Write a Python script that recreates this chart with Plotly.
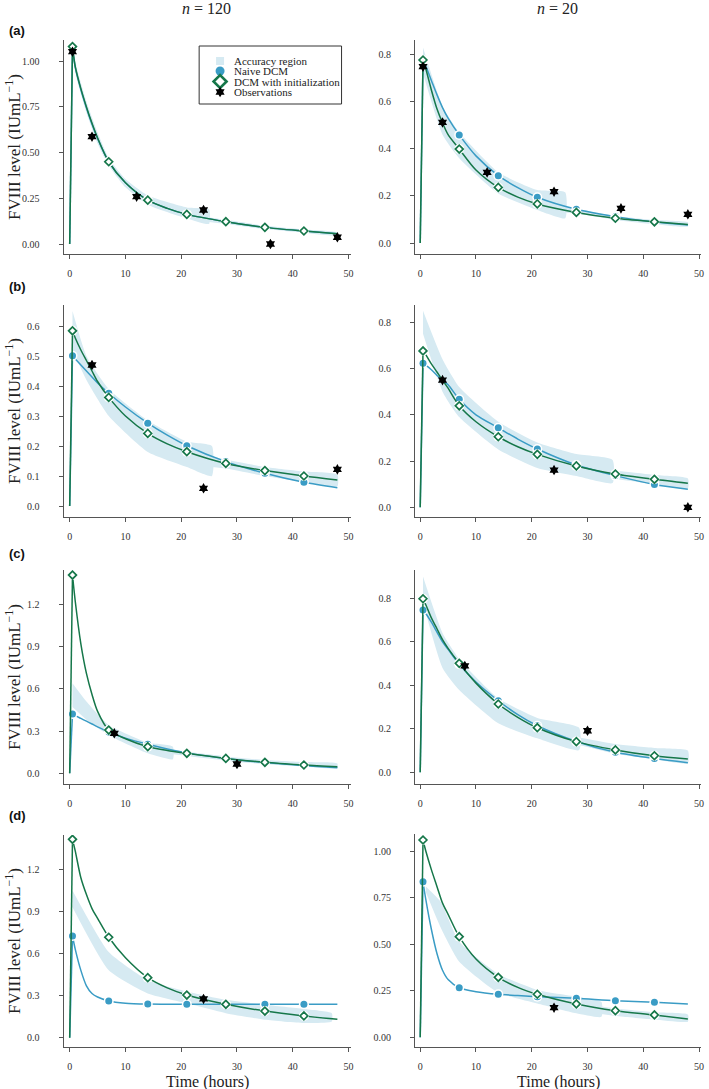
import plotly.graph_objects as go

W, H = 709, 1089

# ---------------- data ----------------
T = [0, 0.5, 1, 2, 3, 4, 5, 7, 10, 14, 17.5, 21, 28, 35, 42, 48]
MARK_T = [0.5, 7, 14, 21, 28, 35, 42]
XTICKS = [0, 10, 20, 30, 40, 50]

# (a) n=120
A120_green = [0, 1.08, 0.97, 0.85, 0.75, 0.66, 0.58, 0.45, 0.335, 0.24, 0.195, 0.162, 0.122, 0.091, 0.071, 0.056]
A120_blue = [0, 1.07, 0.965, 0.845, 0.745, 0.655, 0.578, 0.45, 0.335, 0.24, 0.195, 0.162, 0.122, 0.091, 0.071, 0.056]
A120_obs_t = [0.5, 4, 12, 24, 36, 48]
A120_obs_v = [1.052, 0.587, 0.259, 0.186, 0.0, 0.037]
A120_b1_t = [0.5, 1.3, 3, 5, 7, 10, 14, 21, 25]
A120_b1_hi = [1.09, 0.96, 0.78, 0.61, 0.47, 0.355, 0.265, 0.2, 0.19]
A120_b1_lo = [1.03, 0.9, 0.72, 0.55, 0.43, 0.31, 0.215, 0.14, 0.11]
A120_b2_t = [25, 28, 35, 42, 48]
A120_b2_hi = [0.145, 0.132, 0.1, 0.08, 0.064]
A120_b2_lo = [0.12, 0.11, 0.082, 0.062, 0.047]

# (a) n=20
A20_green = [0, 0.777, 0.74, 0.65, 0.57, 0.51, 0.46, 0.399, 0.31, 0.236, 0.195, 0.166, 0.13, 0.105, 0.09, 0.079]
A20_blue = [0, 0.77, 0.75, 0.69, 0.63, 0.575, 0.53, 0.459, 0.37, 0.286, 0.235, 0.194, 0.143, 0.112, 0.089, 0.076]
A20_obs_t = [0.5, 4, 12, 24, 36, 48]
A20_obs_v = [0.749, 0.512, 0.3, 0.218, 0.147, 0.122]
A20_b1_t = [0.5, 4, 7, 14, 21, 26]
A20_b1_hi = [0.83, 0.58, 0.47, 0.3, 0.225, 0.215]
A20_b1_lo = [0.72, 0.46, 0.36, 0.21, 0.14, 0.105]
A20_b2_t = [26, 28, 35, 42, 48]
A20_b2_hi = [0.155, 0.145, 0.115, 0.098, 0.088]
A20_b2_lo = [0.13, 0.125, 0.098, 0.08, 0.07]

# (b) n=120
B120_green = [0, 0.584, 0.56, 0.52, 0.485, 0.45, 0.415, 0.362, 0.3, 0.242, 0.207, 0.181, 0.142, 0.118, 0.1, 0.087]
B120_blue = [0, 0.501, 0.49, 0.47, 0.45, 0.43, 0.41, 0.376, 0.33, 0.276, 0.236, 0.201, 0.148, 0.109, 0.079, 0.061]
B120_obs_t = [4, 24, 48]
B120_obs_v = [0.47, 0.059, 0.122]
B120_b1_t = [0.5, 3, 7, 14, 21, 25.5]
B120_b1_hi = [0.65, 0.5, 0.39, 0.285, 0.215, 0.2]
B120_b1_lo = [0.52, 0.42, 0.3, 0.18, 0.13, 0.1]
B120_b2_t = [25.5, 28, 35, 42, 48]
B120_b2_hi = [0.165, 0.155, 0.13, 0.115, 0.105]
B120_b2_lo = [0.13, 0.125, 0.1, 0.08, 0.065]

# (b) n=20
B20_green = [0, 0.676, 0.66, 0.62, 0.585, 0.55, 0.515, 0.439, 0.37, 0.305, 0.262, 0.229, 0.179, 0.144, 0.121, 0.104]
B20_blue = [0, 0.623, 0.615, 0.595, 0.57, 0.55, 0.53, 0.467, 0.4, 0.344, 0.295, 0.252, 0.183, 0.137, 0.099, 0.078]
B20_obs_t = [4, 24, 48]
B20_obs_v = [0.55, 0.161, 0.0]
B20_b1_t = [0.5, 4, 7, 14, 21, 28, 34.5]
B20_b1_hi = [0.85, 0.64, 0.52, 0.37, 0.28, 0.23, 0.205]
B20_b1_lo = [0.75, 0.5, 0.39, 0.25, 0.17, 0.135, 0.105]
B20_b2_t = [34.5, 42, 48]
B20_b2_hi = [0.16, 0.14, 0.125]
B20_b2_lo = [0.125, 0.1, 0.082]

# (c) n=120
C120_green = [0, 1.408, 1.22, 0.92, 0.71, 0.56, 0.44, 0.307, 0.245, 0.189, 0.162, 0.142, 0.106, 0.078, 0.059, 0.047]
C120_blue = [0, 0.421, 0.41, 0.39, 0.37, 0.35, 0.33, 0.293, 0.25, 0.206, 0.173, 0.145, 0.105, 0.076, 0.054, 0.04]
C120_obs_t = [8, 30]
C120_obs_v = [0.284, 0.066]
C120_b1_t = [0.5, 3, 7, 14, 18.5]
C120_b1_hi = [0.64, 0.51, 0.343, 0.218, 0.189]
C120_b1_lo = [0.47, 0.38, 0.27, 0.142, 0.1]
C120_b2_t = [18.5, 28, 35, 42, 48]
C120_b2_hi = [0.165, 0.12, 0.095, 0.08, 0.07]
C120_b2_lo = [0.135, 0.09, 0.065, 0.048, 0.037]

# (c) n=20
C20_green = [0, 0.798, 0.77, 0.71, 0.66, 0.61, 0.57, 0.501, 0.41, 0.314, 0.253, 0.205, 0.141, 0.103, 0.076, 0.061]
C20_blue = [0, 0.746, 0.73, 0.69, 0.645, 0.6, 0.565, 0.497, 0.415, 0.329, 0.265, 0.214, 0.142, 0.092, 0.063, 0.044]
C20_obs_t = [8, 30]
C20_obs_v = [0.489, 0.191]
C20_b1_t = [0.5, 4, 7, 14, 21, 28.5]
C20_b1_hi = [0.9, 0.64, 0.52, 0.34, 0.25, 0.205]
C20_b1_lo = [0.78, 0.48, 0.378, 0.225, 0.156, 0.102]
C20_b2_t = [28.5, 35, 42, 48]
C20_b2_hi = [0.16, 0.13, 0.112, 0.1]
C20_b2_lo = [0.125, 0.085, 0.06, 0.042]

# (d) n=120
D120_green = [0, 1.414, 1.33, 1.14, 1.02, 0.92, 0.85, 0.716, 0.57, 0.428, 0.355, 0.304, 0.238, 0.19, 0.155, 0.131]
D120_blue = [0, 0.725, 0.63, 0.48, 0.37, 0.315, 0.29, 0.262, 0.246, 0.24, 0.239, 0.238, 0.238, 0.238, 0.238, 0.238]
D120_obs_t = [24]
D120_obs_v = [0.276]
D120_b1_t = [0.5, 7, 14, 21, 28, 35, 42, 47]
D120_b1_hi = [1.05, 0.61, 0.41, 0.33, 0.27, 0.235, 0.205, 0.175]
D120_b1_lo = [0.93, 0.48, 0.315, 0.245, 0.175, 0.128, 0.105, 0.115]
D120_b2_t = []
D120_b2_hi = []
D120_b2_lo = []

# (d) n=20
D20_green = [0, 1.059, 1.0, 0.9, 0.81, 0.72, 0.66, 0.54, 0.42, 0.322, 0.268, 0.231, 0.179, 0.143, 0.12, 0.098]
D20_blue = [0, 0.835, 0.74, 0.58, 0.45, 0.36, 0.31, 0.266, 0.245, 0.231, 0.224, 0.218, 0.209, 0.196, 0.188, 0.179]
D20_obs_t = [24]
D20_obs_v = [0.159]
D20_b1_t = [1, 3.6, 7, 14, 21, 28, 32.5]
D20_b1_hi = [0.81, 0.73, 0.513, 0.34, 0.254, 0.218, 0.19]
D20_b1_lo = [0.78, 0.594, 0.406, 0.24, 0.182, 0.129, 0.11]
D20_b2_t = [32.5, 35, 42, 48]
D20_b2_hi = [0.165, 0.155, 0.135, 0.123]
D20_b2_lo = [0.125, 0.115, 0.095, 0.084]

YT_A120 = [0, 0.25, 0.5, 0.75, 1.0]
YT_A20 = [0, 0.2, 0.4, 0.6, 0.8]
YT_B120 = [0, 0.1, 0.2, 0.3, 0.4, 0.5, 0.6]
YT_B20 = [0, 0.2, 0.4, 0.6, 0.8]
YT_C120 = [0, 0.3, 0.6, 0.9, 1.2]
YT_C20 = [0, 0.2, 0.4, 0.6, 0.8]
YT_D120 = [0, 0.3, 0.6, 0.9, 1.2]
YT_D20 = [0, 0.25, 0.5, 0.75, 1.0]

LEGEND_LABELS = ["Accuracy region", "Naive DCM", "DCM with initialization", "Observations"]
PANEL_LABELS = ["(a)", "(b)", "(c)", "(d)"]
COL_TITLES = ["<i>n</i> = 120", "<i>n</i> = 20"]
YTITLE = "FVIII level (IUmL<sup>−1</sup>)"
XTITLE = "Time (hours)"

# ---------------- style ----------------
GREEN = "#16774a"
BLUE = "#3a9cc5"
BAND = "#d6eaf2"
AX = "#555555"
SERIF = "Liberation Serif"

panels = [
    dict(g=A120_green, b=A120_blue, ot=A120_obs_t, ov=A120_obs_v,
         bands=[(A120_b1_t, A120_b1_lo, A120_b1_hi), (A120_b2_t, A120_b2_lo, A120_b2_hi)],
         yt=YT_A120, fmt=".2f", col=0, top=40, bot=254, y0=244, s=182.8),
    dict(g=A20_green, b=A20_blue, ot=A20_obs_t, ov=A20_obs_v,
         bands=[(A20_b1_t, A20_b1_lo, A20_b1_hi), (A20_b2_t, A20_b2_lo, A20_b2_hi)],
         yt=YT_A20, fmt=".1f", col=1, top=40, bot=254, y0=243, s=235.5),
    dict(g=B120_green, b=B120_blue, ot=B120_obs_t, ov=B120_obs_v,
         bands=[(B120_b1_t, B120_b1_lo, B120_b1_hi), (B120_b2_t, B120_b2_lo, B120_b2_hi)],
         yt=YT_B120, fmt=".1f", col=0, top=305, bot=517, y0=506, s=300),
    dict(g=B20_green, b=B20_blue, ot=B20_obs_t, ov=B20_obs_v,
         bands=[(B20_b1_t, B20_b1_lo, B20_b1_hi), (B20_b2_t, B20_b2_lo, B20_b2_hi)],
         yt=YT_B20, fmt=".1f", col=1, top=305, bot=517, y0=507.3, s=231.25),
    dict(g=C120_green, b=C120_blue, ot=C120_obs_t, ov=C120_obs_v,
         bands=[(C120_b1_t, C120_b1_lo, C120_b1_hi), (C120_b2_t, C120_b2_lo, C120_b2_hi)],
         yt=YT_C120, fmt=".1f", col=0, top=570, bot=784, y0=773.3, s=140.8),
    dict(g=C20_green, b=C20_blue, ot=C20_obs_t, ov=C20_obs_v,
         bands=[(C20_b1_t, C20_b1_lo, C20_b1_hi), (C20_b2_t, C20_b2_lo, C20_b2_hi)],
         yt=YT_C20, fmt=".1f", col=1, top=570, bot=784, y0=772.3, s=217.5),
    dict(g=D120_green, b=D120_blue, ot=D120_obs_t, ov=D120_obs_v,
         bands=[(D120_b1_t, D120_b1_lo, D120_b1_hi), (D120_b2_t, D120_b2_lo, D120_b2_hi)],
         yt=YT_D120, fmt=".1f", col=0, top=835, bot=1047, y0=1037.7, s=140.3),
    dict(g=D20_green, b=D20_blue, ot=D20_obs_t, ov=D20_obs_v,
         bands=[(D20_b1_t, D20_b1_lo, D20_b1_hi), (D20_b2_t, D20_b2_lo, D20_b2_hi)],
         yt=YT_D20, fmt=".2f", col=1, top=834, bot=1047, y0=1037.3, s=186.3),
]
COLS = [dict(x0=64, x1=352, zero=70), dict(x0=417, x1=704, zero=422)]
XS = 5.6  # px per hour

fig = go.Figure()
layout = {}
mark_idx = [T.index(t) for t in MARK_T]

for i, p in enumerate(panels):
    k = "" if i == 0 else str(i + 1)
    xa, ya = "x" + k, "y" + k
    c = COLS[p["col"]]
    for (bt, blo, bhi) in p["bands"]:
        if not bt:
            continue
        fig.add_trace(go.Scatter(x=list(bt) + list(bt[::-1]), y=list(bhi) + list(blo[::-1]),
                                 fill="toself", fillcolor=BAND, mode="lines",
                                 line=dict(width=0, shape="spline", smoothing=0.5),
                                 xaxis=xa, yaxis=ya, showlegend=False, hoverinfo="skip"))
    for vals, color, sym in [(p["b"], BLUE, "circle"), (p["g"], GREEN, "diamond")]:
        fig.add_trace(go.Scatter(x=T[:2], y=vals[:2], mode="lines", line=dict(color=color, width=1.5),
                                 xaxis=xa, yaxis=ya, showlegend=False, hoverinfo="skip"))
        fig.add_trace(go.Scatter(x=T[1:], y=vals[1:], mode="lines",
                                 line=dict(color=color, width=1.5, shape="spline", smoothing=0.8),
                                 xaxis=xa, yaxis=ya, showlegend=False, hoverinfo="skip"))
        mx = [T[j] for j in mark_idx]
        my = [vals[j] for j in mark_idx]
        fig.add_trace(go.Scatter(x=mx, y=my, mode="markers",
                                 marker=dict(symbol="circle", size=10, color="white"),
                                 xaxis=xa, yaxis=ya, showlegend=False, hoverinfo="skip"))
        if sym == "circle":
            mk = dict(symbol="circle", size=7, color=BLUE, line=dict(width=0))
        else:
            mk = dict(symbol="diamond", size=6, color="white", line=dict(color=GREEN, width=1.7))
        fig.add_trace(go.Scatter(x=mx, y=my, mode="markers", marker=mk,
                                 xaxis=xa, yaxis=ya, showlegend=False))
    fig.add_trace(go.Scatter(x=p["ot"], y=p["ov"], mode="markers",
                             marker=dict(symbol="hexagram", size=8, color="black"),
                             xaxis=xa, yaxis=ya, showlegend=False))

    xr = [(c["x0"] - c["zero"]) / XS, (c["x1"] - c["zero"]) / XS]
    yr = [-(p["bot"] - p["y0"]) / p["s"], (p["y0"] - p["top"]) / p["s"]]
    common = dict(showline=True, linecolor=AX, linewidth=1.4, ticks="outside", ticklen=4,
                  tickcolor=AX, tickwidth=1, showgrid=False, zeroline=False,
                  ticklabeloverflow="allow",
                  tickfont=dict(family=SERIF, size=10, color="#333333"))
    layout["xaxis" + k] = dict(domain=[c["x0"] / W, c["x1"] / W], range=xr, anchor=ya,
                               tickvals=XTICKS, ticklabelstandoff=6, **common)
    layout["yaxis" + k] = dict(domain=[1 - p["bot"] / H, 1 - p["top"] / H], range=yr, anchor=xa,
                               tickvals=p["yt"], tickformat=p["fmt"], ticklabelstandoff=17, **common)

# ---- custom legend: small overlay axis covering the legend box (pixel units) ----
LB = dict(x0=200, x1=343, y0=46, y1=104)
layout["xaxis9"] = dict(domain=[LB["x0"] / W, LB["x1"] / W], range=[LB["x0"], LB["x1"]],
                        visible=False, fixedrange=True, anchor="y9")
layout["yaxis9"] = dict(domain=[1 - LB["y1"] / H, 1 - LB["y0"] / H], range=[LB["y1"], LB["y0"]],
                        visible=False, fixedrange=True, anchor="x9")
LEG_X, LEG_Y = [221, 221, 221, 221], [61, 71, 81.5, 92]
leg_markers = [
    dict(symbol="square", size=8, color=BAND),
    dict(symbol="circle", size=9, color=BLUE),
    dict(symbol="diamond", size=10, color="white", line=dict(color=GREEN, width=2.6)),
    dict(symbol="hexagram", size=8, color="black"),
]
for j in range(4):
    fig.add_trace(go.Scatter(x=[LEG_X[j]], y=[LEG_Y[j]], mode="markers", marker=leg_markers[j],
                             xaxis="x9", yaxis="y9", showlegend=False, hoverinfo="skip"))

shapes = [dict(type="rect", xref="paper", yref="paper", x0=LB["x0"] / W, x1=LB["x1"] / W,
               y0=1 - LB["y1"] / H, y1=1 - LB["y0"] / H, line=dict(color="#333", width=1),
               fillcolor="rgba(0,0,0,0)", layer="above")]

ann = []
for j in range(4):
    ann.append(dict(text=LEGEND_LABELS[j], x=233 / W, y=1 - LEG_Y[j] / H, xref="paper", yref="paper",
                    showarrow=False, font=dict(family=SERIF, size=11, color="#222"),
                    xanchor="left", yanchor="middle"))
for j, t in enumerate(COL_TITLES):
    ann.append(dict(text=t, x=[207, 560][j] / W, y=1 - 8 / H, xref="paper", yref="paper",
                    showarrow=False, font=dict(family=SERIF, size=16, color="#222"),
                    xanchor="center", yanchor="middle"))
for r, lab in enumerate(PANEL_LABELS):
    ann.append(dict(text="<b>%s</b>" % lab, x=7 / W, y=1 - [31, 286, 553, 815][r] / H,
                    xref="paper", yref="paper", showarrow=False,
                    font=dict(family="Liberation Sans", size=13, color="#111"),
                    xanchor="left", yanchor="middle"))
    p = panels[2 * r]
    ann.append(dict(text=YTITLE, x=13 / W, y=1 - (p["top"] + p["bot"]) / 2 / H,
                    xref="paper", yref="paper", showarrow=False, textangle=-90,
                    font=dict(family=SERIF, size=17, color="#222"),
                    xanchor="center", yanchor="middle"))
for j in range(2):
    ann.append(dict(text=XTITLE, x=[208, 561][j] / W, y=1 - 1082 / H, xref="paper", yref="paper",
                    showarrow=False, font=dict(family=SERIF, size=16, color="#222"),
                    xanchor="center", yanchor="middle", borderpad=0))

fig.update_layout(width=W, height=H, margin=dict(l=0, r=0, t=0, b=0),
                  plot_bgcolor="white", paper_bgcolor="white", annotations=ann, shapes=shapes,
                  showlegend=False, **layout)
fig.write_html("out.html", config={"displayModeBar": False},
               post_script="document.body.style.margin='0px';document.body.style.overflow='hidden';")
